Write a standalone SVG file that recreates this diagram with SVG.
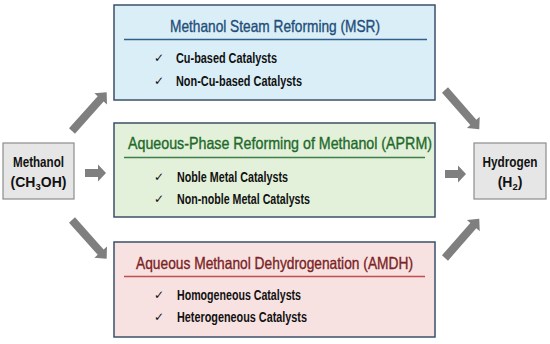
<svg xmlns="http://www.w3.org/2000/svg" xmlns:xlink="http://www.w3.org/1999/xlink" width="550" height="344" viewBox="0 0 550 344">
<style>
.box{stroke:#3B5068;stroke-width:1.5}
.gray{fill:#E6E6E6;stroke:#8C8C8C;stroke-width:1.2}
.title{font-family:"Liberation Sans",Arial,sans-serif;font-size:16.5px;font-weight:normal;stroke-width:0.35}
.item{font-family:"Liberation Sans",Arial,sans-serif;font-size:14px;font-weight:bold;fill:#111}
.chk{font-family:"DejaVu Sans",sans-serif;font-size:12px;fill:#111}
.lbl{font-family:"Liberation Sans",Arial,sans-serif;font-size:14px;font-weight:bold;fill:#111;text-anchor:middle}
.arr{fill:#7F7F7F}
</style>
<defs>
<polygon id="diag" points="0,-4 43,-4 43,-8.5 52,0 43,8.5 43,4 0,4"/>
<polygon id="hor" points="0,-4 13,-4 13,-8.5 21,0 13,8.5 13,4 0,4"/>
</defs>
<g id="connectors" class="arr">
<use xlink:href="#diag" transform="translate(72,131) rotate(-48.2)"/>
<use xlink:href="#hor" transform="translate(85,173)"/>
<use xlink:href="#diag" transform="translate(72,220) rotate(48.2)"/>
<use xlink:href="#diag" transform="translate(445,90) rotate(48.8)"/>
<use xlink:href="#hor" transform="translate(445,174)"/>
<use xlink:href="#diag" transform="translate(445,258) rotate(-48.8)"/>
</g>
<g id="methanol">
<rect class="gray" x="3" y="143" width="71" height="56"/>
<text class="lbl" x="38.5" y="167" textLength="51" lengthAdjust="spacingAndGlyphs">Methanol</text>
<text class="lbl" x="38.5" y="187">(CH<tspan font-size="9.5" dy="2.5">3</tspan><tspan dy="-2.5">OH)</tspan></text>
</g>
<g id="hydrogen">
<rect class="gray" x="474" y="143" width="72" height="56"/>
<text class="lbl" x="510" y="167" textLength="55" lengthAdjust="spacingAndGlyphs">Hydrogen</text>
<text class="lbl" x="510" y="187">(H<tspan font-size="9.5" dy="2.5">2</tspan><tspan dy="-2.5">)</tspan></text>
</g>
<g id="msr">
<rect class="box" x="114" y="5" width="321" height="95" fill="#DAEEF8"/>
<text class="title" x="170" y="31.5" fill="#1F4E79" stroke="#1F4E79" textLength="210" lengthAdjust="spacingAndGlyphs">Methanol Steam Reforming (MSR)</text>
<line x1="124" y1="39.5" x2="427" y2="39.5" stroke="#2F5F8A" stroke-width="1.5"/>
<text class="chk" x="154" y="62">✓</text>
<text class="item" x="176" y="63" textLength="101" lengthAdjust="spacingAndGlyphs">Cu-based Catalysts</text>
<text class="chk" x="154" y="85">✓</text>
<text class="item" x="176" y="86" textLength="126" lengthAdjust="spacingAndGlyphs">Non-Cu-based Catalysts</text>
</g>
<g id="aprm">
<rect class="box" x="114" y="123" width="321" height="94" fill="#E3F0DA"/>
<text class="title" x="128" y="149" fill="#1D6A2A" stroke="#1D6A2A" textLength="304" lengthAdjust="spacingAndGlyphs">Aqueous-Phase Reforming of Methanol (APRM)</text>
<line x1="124" y1="157.5" x2="425" y2="157.5" stroke="#3F7F4A" stroke-width="1.5"/>
<text class="chk" x="154" y="181">✓</text>
<text class="item" x="177" y="182" textLength="111" lengthAdjust="spacingAndGlyphs">Noble Metal Catalysts</text>
<text class="chk" x="154" y="203">✓</text>
<text class="item" x="177" y="204" textLength="133" lengthAdjust="spacingAndGlyphs">Non-noble Metal Catalysts</text>
</g>
<g id="amdh">
<rect class="box" x="114" y="242" width="321" height="95" fill="#F7E1E1"/>
<text class="title" x="136" y="268.5" fill="#7B2323" stroke="#7B2323" textLength="277" lengthAdjust="spacingAndGlyphs">Aqueous Methanol Dehydrogenation (AMDH)</text>
<line x1="124" y1="276.5" x2="425" y2="276.5" stroke="#C0504D" stroke-width="1.5"/>
<text class="chk" x="154" y="299">✓</text>
<text class="item" x="177" y="300" textLength="124" lengthAdjust="spacingAndGlyphs">Homogeneous Catalysts</text>
<text class="chk" x="154" y="321">✓</text>
<text class="item" x="177" y="322" textLength="130" lengthAdjust="spacingAndGlyphs">Heterogeneous Catalysts</text>
</g>
</svg>
